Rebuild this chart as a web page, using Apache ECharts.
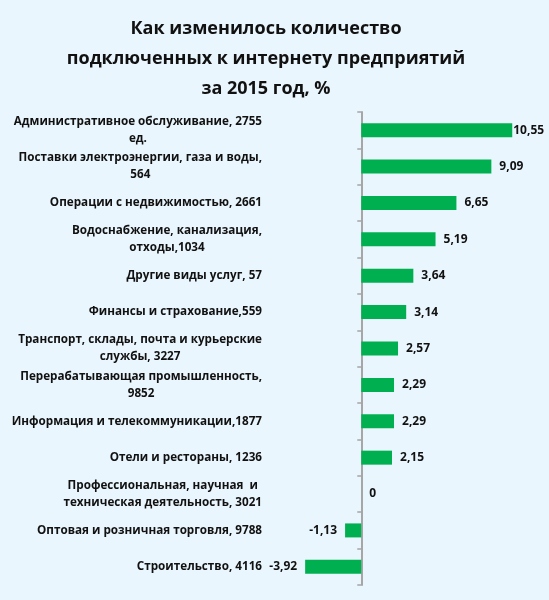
<!DOCTYPE html>
<html>
<head>
<meta charset="utf-8">
<script src="https://cdn.jsdelivr.net/npm/echarts@6/dist/echarts.min.js"></script>
<style>
  html, body { margin: 0; padding: 0; background: #eaf6fd; }
  #chart { width: 549px; height: 600px; }
</style>
</head>
<body>
<div id="chart"></div>
<script>
// отрасли (сверху вниз) и изменение, %
var categories = [
  'Административное обслуживание, 2755\nед.',
  'Поставки электроэнергии, газа и воды,\n564',
  'Операции с недвижимостью, 2661',
  'Водоснабжение, канализация,\nотходы,1034',
  'Другие виды услуг, 57',
  'Финансы и страхование,559',
  'Транспорт, склады, почта и курьерские\nслужбы, 3227',
  'Перерабатывающая промышленность,\n9852',
  'Информация и телекоммуникации,1877',
  'Отели и рестораны, 1236',
  'Профессиональная, научная  и\nтехническая деятельность, 3021',
  'Оптовая и розничная торговля, 9788',
  'Строительство, 4116'
]
var values = [10.55, 9.09, 6.65, 5.19, 3.64, 3.14, 2.57, 2.29, 2.29, 2.15, 0, -1.13, -3.92]

var font = '"Open Sans", "DejaVu Sans", sans-serif'

var chart = echarts.init(document.getElementById('chart'))

var maxVal = Math.max.apply(null, values)
var barData = values.map(function (v) {
  // самый длинный столбик: подпись вплотную, иначе вылезает за край
  if (v === maxVal) return { value: v, label: { distance: 1 } }
  return v
})

chart.setOption({
  backgroundColor: '#eaf6fd',
  title: {
    text: 'Как изменилось количество\nподключенных к интернету предприятий\nза 2015 год, %',
    left: 261,
    textAlign: 'center',
    top: 9,
    textStyle: {
      fontFamily: font,
      fontSize: 18,
      fontWeight: 'bold',
      color: '#111',
      lineHeight: 30
    }
  },
  grid: {
    left: 304,
    right: 16,
    top: 112,
    bottom: 15,
    containLabel: false
  },
  xAxis: {
    type: 'value',
    min: -4,
    max: 12,
    show: false
  },
  yAxis: [
    {
      // линия оси по нулю с делениями
      type: 'category',
      data: categories,
      inverse: true,
      axisLine: { show: true, onZero: true, lineStyle: { color: '#a6a6a6', width: 2 } },
      axisTick: { show: true, length: 4, lineStyle: { color: '#a6a6a6', width: 1.5 } },
      axisLabel: { show: false },
      splitLine: { show: false }
    },
    {
      // подписи категорий слева
      type: 'category',
      data: categories,
      inverse: true,
      position: 'left',
      axisLine: { show: false, onZero: false },
      axisTick: { show: false },
      axisLabel: {
        margin: 42,
        align: 'right',
        formatter: function (val) {
          return val.split('\n').map(function (s) { return '{c|' + s + '}' }).join('\n')
        },
        rich: {
          c: {
            align: 'center',
            fontFamily: font,
            fontSize: 11.7,
            fontWeight: 'bold',
            color: '#111',
            lineHeight: 17
          }
        }
      }
    }
  ],
  series: [
    {
      type: 'bar',
      yAxisIndex: 0,
      data: barData,
      barWidth: 14,
      itemStyle: { color: '#00b050' },
      label: {
        show: true,
        position: 'outside',
        distance: 8,
        fontFamily: font,
        fontSize: 12,
        fontWeight: 'bold',
        color: '#111',
        formatter: function (p) { return String(p.value).replace('.', ',') }
      }
    }
  ]
})
</script>
</body>
</html>
